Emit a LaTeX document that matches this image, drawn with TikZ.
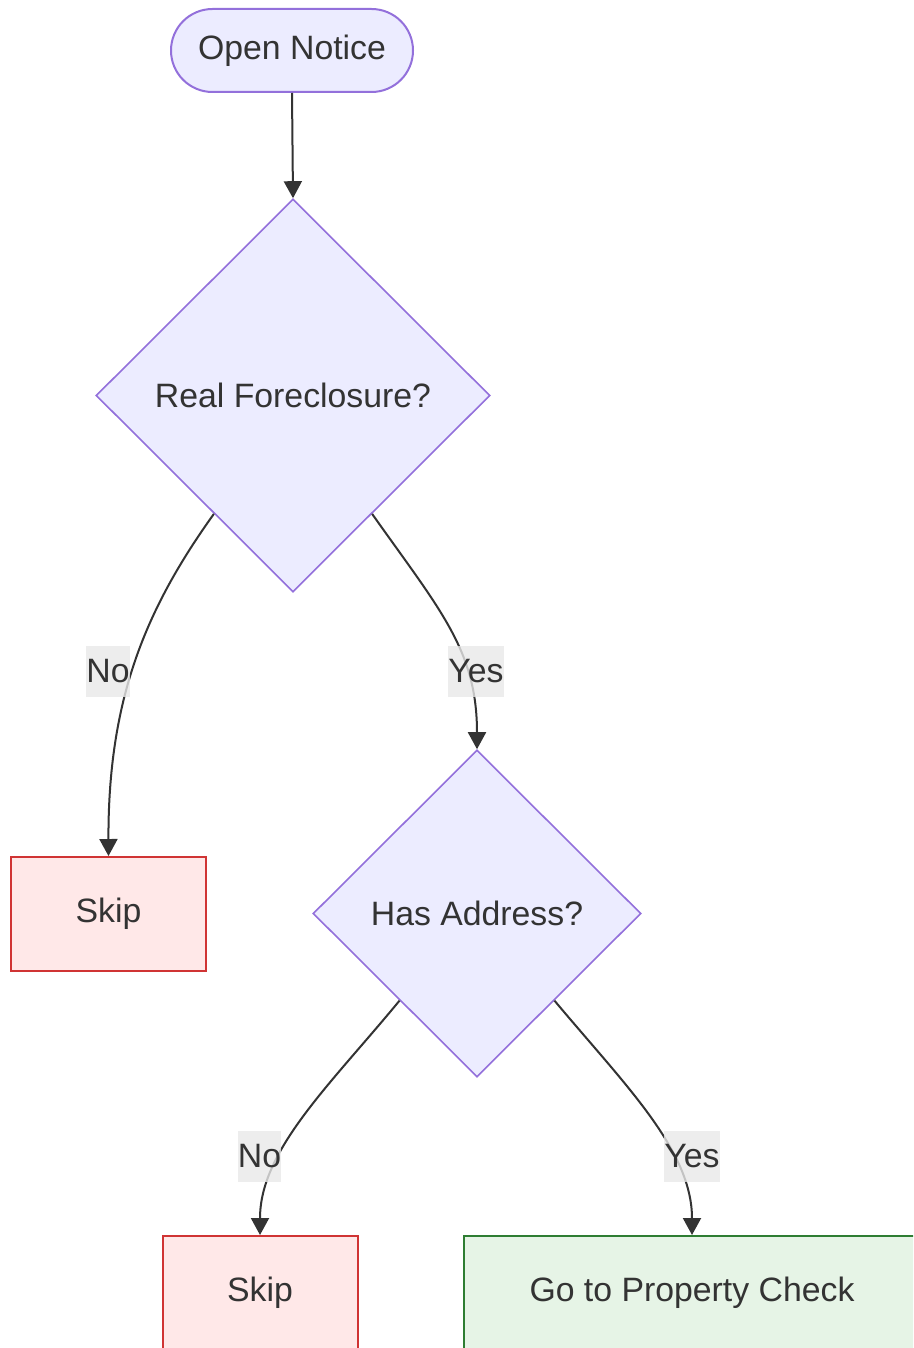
\documentclass[tikz,border=0pt]{standalone}
\usepackage{fontspec}
\setmainfont{Liberation Sans}
\usetikzlibrary{shapes.geometric,arrows.meta,calc}

\definecolor{txt}{HTML}{333333}
\definecolor{edgec}{HTML}{333333}
\definecolor{decfill}{HTML}{ECECFF}
\definecolor{decline}{HTML}{9370DB}
\definecolor{skipfill}{HTML}{FFE8E8}
\definecolor{skipline}{HTML}{D03434}
\definecolor{okfill}{HTML}{E6F4E6}
\definecolor{okline}{HTML}{2E7D32}
\definecolor{lblfill}{HTML}{E8E8E8}

\tikzset{
  every node/.style={text=txt, font=\fontsize{33.8}{40}\selectfont},
  startbox/.style={draw=decline, fill=decfill, line width=2pt,
    minimum width=242pt, minimum height=83pt, rounded corners=41.5pt, inner sep=0pt},
  decision/.style={diamond, draw=decline, fill=decfill, line width=1.6pt, inner sep=0pt, aspect=1},
  skipbox/.style={draw=skipline, fill=skipfill, line width=2pt,
    minimum width=195pt, minimum height=114pt, inner sep=0pt},
  okbox/.style={draw=okline, fill=okfill, line width=2pt,
    minimum width=456pt, minimum height=114pt, inner sep=0pt},
  flow/.style={draw=edgec, line width=2pt, -{Triangle[length=17pt,width=18pt]}},
  edgelabel/.style={fill=lblfill, fill opacity=0.8, text opacity=1, inner sep=0pt,
    minimum height=51pt}
}

\begin{document}
\begin{tikzpicture}[x=1pt, y=-1pt]
  \useasboundingbox (0,0) rectangle (913,1348);
  \clip (0,0) rectangle (913,1348);

  % nodes
  \node[startbox] (open) at (292,50.5) {Open Notice};
  \node[decision, minimum width=394pt, minimum height=393pt] (real) at (293,395.5) {Real Foreclosure?};
  \node[skipbox] (skipa) at (108.5,914) {Skip};
  \node[decision, minimum width=328pt, minimum height=327pt] (addr) at (477,913.5) {Has Address?};
  \node[skipbox] (skipb) at (260,1293) {Skip};
  \node[okbox] (prop) at (692,1293) {Go to Property Check};

  % exit points on the decision borders
  \coordinate (realL) at ($(real.west)!0.6!(real.south)$);
  \coordinate (realR) at ($(real.south)!0.4!(real.east)$);
  \coordinate (addrL) at ($(addr.west)!0.53!(addr.south)$);
  \coordinate (addrR) at ($(addr.south)!0.47!(addr.east)$);

  % connectors
  \draw[flow] (open.south) -- (real.north);
  \draw[flow] (realL) .. controls (145,610) and (108,700) .. (skipa.north);
  \draw[flow] (realR) .. controls (440,610) and (477,650) .. (addr.north);
  \draw[flow] (addrL) .. controls (330,1085) and (260,1150) .. (skipb.north);
  \draw[flow] (addrR) .. controls (625,1085) and (692,1150) .. (prop.north);

  % edge labels
  \node[edgelabel, minimum width=42pt] (lnoa) at (108,671.5) {No};
  \node[edgelabel, minimum width=56pt] (lyesa) at (476,671.5) {Yes};
  \node[edgelabel, minimum width=43pt] (lnob) at (259.5,1156.5) {No};
  \node[edgelabel, minimum width=56pt] (lyesb) at (692,1156.5) {Yes};
\end{tikzpicture}
\end{document}
